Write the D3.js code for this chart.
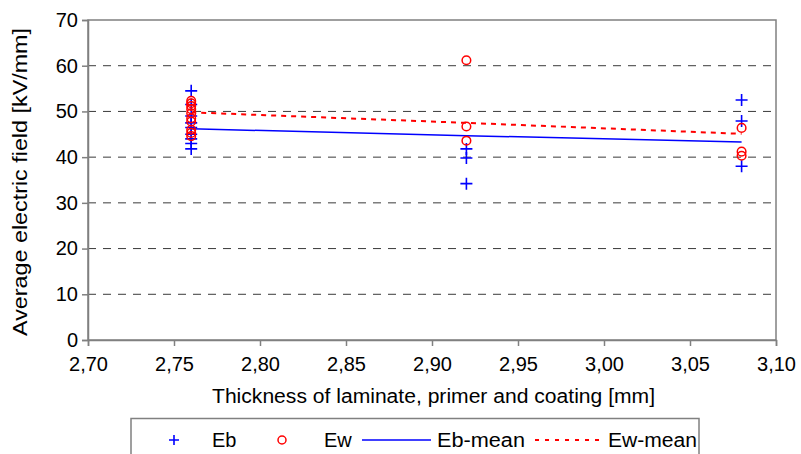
<!DOCTYPE html>
<html>
<head>
<meta charset="utf-8">
<script src="https://cdn.jsdelivr.net/npm/d3@7"></script>
<style>
  html, body { margin: 0; padding: 0; background: #fff; }
  svg { display: block; font-family: "Liberation Sans", Arial, sans-serif; }
</style>
</head>
<body>
<svg id="chart" width="801" height="454"></svg>
<script>
// Thickness groups (mm)
const thickness = [2.76, 2.92, 3.08];

// Breakdown field Eb per thickness group (kV/mm)
const ebAt276 = [54.5, 51.5, 49.0, 47.5, 46.5, 45.0, 44.0, 43.0, 41.8];
const ebAt292 = [41.8, 39.8, 34.2];
const ebAt308 = [52.5, 47.9, 38.0];

// Withstand field Ew per thickness group (kV/mm)
const ewAt276 = [52.3, 51.8, 51.2, 50.5, 49.6, 48.5, 47.8, 46.0, 45.3, 44.6];
const ewAt292 = [61.2, 46.7, 43.6];
const ewAt308 = [46.4, 41.2, 40.3];

// Mean trend lines at each thickness
const ebMean = [46.2, 44.7, 43.3];
const ewMean = [49.8, 47.5, 45.1];

// Axis ticks
const xTicks = [2.70, 2.75, 2.80, 2.85, 2.90, 2.95, 3.00, 3.05, 3.10];
const yTicks = [0, 10, 20, 30, 40, 50, 60, 70];

const svg = d3.select("#chart");
const plot = { left: 88, right: 776, top: 20, bottom: 340 };

const x = d3.scaleLinear().domain([2.70, 3.10]).range([plot.left, plot.right]);
const y = d3.scaleLinear().domain([0, 70]).range([plot.bottom, plot.top]);

const fmt = v => v.toFixed(2).replace(".", ",");

// Dashed horizontal gridlines
svg.append("g")
  .selectAll("line")
  .data(yTicks.filter(v => v > 0 && v < 70))
  .join("line")
  .attr("x1", plot.left).attr("x2", plot.right)
  .attr("y1", d => y(d)).attr("y2", d => y(d))
  .attr("stroke", "#3a3a3a")
  .attr("stroke-width", 1)
  .attr("stroke-dasharray", "8,7");

// Plot frame
svg.append("rect")
  .attr("x", plot.left).attr("y", plot.top)
  .attr("width", plot.right - plot.left)
  .attr("height", plot.bottom - plot.top)
  .attr("fill", "none")
  .attr("stroke", "#808080")
  .attr("stroke-width", 1.5);

// Y axis
const yAxis = svg.append("g")
  .attr("transform", `translate(${plot.left},0)`)
  .call(d3.axisLeft(y).tickValues(yTicks).tickSize(6).tickPadding(4).tickFormat(d3.format("d")));
yAxis.select(".domain").attr("stroke", "#808080").attr("stroke-width", 1.5);
yAxis.selectAll(".tick line").attr("stroke", "#808080").attr("stroke-width", 1.5);
yAxis.selectAll(".tick text")
  .attr("font-size", 20).attr("fill", "#000")
  .attr("font-family", "Liberation Sans, Arial, sans-serif");

// X axis
const xAxis = svg.append("g")
  .attr("transform", `translate(0,${plot.bottom})`)
  .call(d3.axisBottom(x).tickValues(xTicks).tickSize(6).tickPadding(11).tickFormat(fmt));
xAxis.select(".domain").attr("stroke", "#808080").attr("stroke-width", 1.5);
xAxis.selectAll(".tick line").attr("stroke", "#808080").attr("stroke-width", 1.5);
xAxis.selectAll(".tick text")
  .attr("font-size", 20).attr("fill", "#000")
  .attr("font-family", "Liberation Sans, Arial, sans-serif");

// Axis titles
svg.append("text")
  .attr("x", 212)
  .attr("y", 403)
  .attr("font-size", 20)
  .attr("textLength", 443)
  .attr("lengthAdjust", "spacingAndGlyphs")
  .text("Thickness of laminate, primer and coating [mm]");

svg.append("text")
  .attr("transform", `translate(27,${(plot.top + plot.bottom) / 2 + 2}) rotate(-90)`)
  .attr("text-anchor", "middle")
  .attr("font-size", 20)
  .attr("textLength", 308)
  .attr("lengthAdjust", "spacingAndGlyphs")
  .text("Average electric field [kV/mm]");

// Mean lines
const lineGen = d3.line().x(d => x(d[0])).y(d => y(d[1]));
svg.append("path")
  .datum(thickness.map((t, i) => [t, ebMean[i]]))
  .attr("d", lineGen)
  .attr("fill", "none")
  .attr("stroke", "#0000ff")
  .attr("stroke-width", 1.5);
svg.append("path")
  .datum(thickness.map((t, i) => [t, ewMean[i]]))
  .attr("d", lineGen)
  .attr("fill", "none")
  .attr("stroke", "#ff0000")
  .attr("stroke-width", 2)
  .attr("stroke-dasharray", "5,5");

// Scatter points
const ebPoints = [
  ...ebAt276.map(v => [thickness[0], v]),
  ...ebAt292.map(v => [thickness[1], v]),
  ...ebAt308.map(v => [thickness[2], v])
];
const ewPoints = [
  ...ewAt276.map(v => [thickness[0], v]),
  ...ewAt292.map(v => [thickness[1], v]),
  ...ewAt308.map(v => [thickness[2], v])
];

const plusPath = s => `M${-s},0H${s}M0,${-s}V${s}`;

svg.append("g")
  .selectAll("path")
  .data(ebPoints)
  .join("path")
  .attr("transform", d => `translate(${x(d[0])},${y(d[1])})`)
  .attr("d", plusPath(6))
  .attr("stroke", "#0000ff")
  .attr("stroke-width", 1.6)
  .attr("fill", "none");

svg.append("g")
  .selectAll("circle")
  .data(ewPoints)
  .join("circle")
  .attr("cx", d => x(d[0]))
  .attr("cy", d => y(d[1]))
  .attr("r", 4.3)
  .attr("stroke", "#ff0000")
  .attr("stroke-width", 1.5)
  .attr("fill", "none");

// Legend
const legend = svg.append("g");
legend.append("rect")
  .attr("x", 131).attr("y", 418.5)
  .attr("width", 568).attr("height", 50)
  .attr("fill", "#fff")
  .attr("stroke", "#808080")
  .attr("stroke-width", 1.5);

const ly = 440;
legend.append("path")
  .attr("transform", `translate(174,${ly})`)
  .attr("d", plusPath(5))
  .attr("stroke", "#0000ff").attr("stroke-width", 1.6);
legend.append("text").attr("x", 212).attr("y", ly + 7).attr("font-size", 20).text("Eb");

legend.append("circle")
  .attr("cx", 282).attr("cy", ly).attr("r", 4)
  .attr("stroke", "#ff0000").attr("stroke-width", 1.5).attr("fill", "none");
legend.append("text").attr("x", 324).attr("y", ly + 7).attr("font-size", 20).text("Ew");

legend.append("line")
  .attr("x1", 362).attr("x2", 431).attr("y1", ly).attr("y2", ly)
  .attr("stroke", "#0000ff").attr("stroke-width", 1.5);
legend.append("text").attr("x", 437).attr("y", ly + 7).attr("font-size", 20)
  .attr("textLength", 88).attr("lengthAdjust", "spacingAndGlyphs").text("Eb-mean");

legend.append("line")
  .attr("x1", 535).attr("x2", 601).attr("y1", ly).attr("y2", ly)
  .attr("stroke", "#ff0000").attr("stroke-width", 2).attr("stroke-dasharray", "4,6");
legend.append("text").attr("x", 608).attr("y", ly + 7).attr("font-size", 20)
  .attr("textLength", 89).attr("lengthAdjust", "spacingAndGlyphs").text("Ew-mean");
</script>
</body>
</html>
